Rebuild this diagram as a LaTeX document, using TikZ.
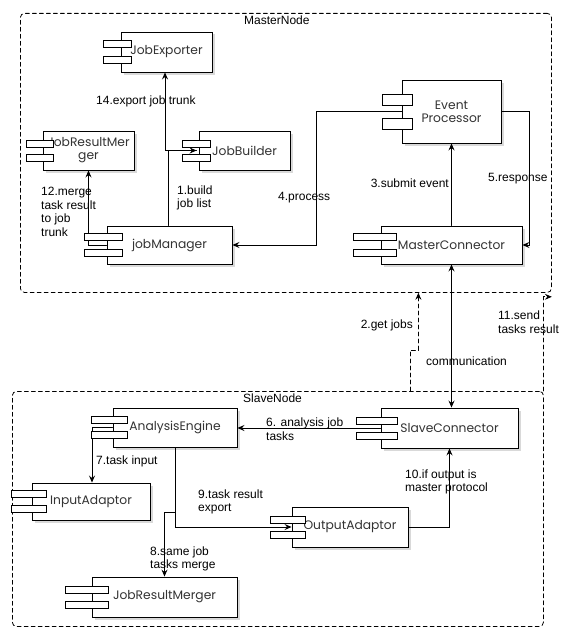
\documentclass[tikz,border=0pt]{standalone}
\usepackage{fontspec}
\setmainfont{Liberation Sans}
\newfontfamily\compfont{Poppins}
\usetikzlibrary{arrows.meta,calc,shadows}

\begin{document}
\begin{tikzpicture}[x=1pt, y=-1pt,
    >={Stealth[length=7pt,width=6pt,inset=2.5pt]}, line cap=round,
    comp/.style={draw, line width=0.9pt, fill=white, inner sep=2pt,
      drop shadow={shadow xshift=2.5pt, shadow yshift=-2.5pt, opacity=0.3},
      font=\compfont\fontsize{12.3}{13}\selectfont, text=black!80,
      align=center},
    port/.style={draw, line width=0.9pt, fill=white},
    conn/.style={->, line width=0.8pt},
    group/.style={draw, dash pattern=on 4pt off 3pt, line width=0.8pt,
      rounded corners=4pt, anchor=north west},
    lbl/.style={font=\fontsize{12}{13.5}\selectfont, align=left,
      inner sep=0pt, anchor=west}
  ]

  \useasboundingbox (0,0) rectangle (579,642);

  % containers
  \node[group, minimum width=531pt, minimum height=279pt] (master) at (20,13) {};
  \node[group, minimum width=531pt, minimum height=235pt] (slave) at (12,391) {};
  \node[lbl] (mastername) at (244,20) {MasterNode};
  \node[lbl] (slavename) at (243,398) {SlaveNode};

  % master side
  \node[comp, minimum width=91pt, minimum height=40pt] (jx) at (166.5,52) {JobExporter};
  \node[comp, minimum width=91pt, minimum height=39pt] (jrm) at (88.5,150.5) {JobResultMer\\ger};
  \node[comp, minimum width=91pt, minimum height=39pt] (jb) at (244.5,150.5) {JobBuilder};
  \node[comp, minimum width=125pt, minimum height=38pt] (jm) at (169.5,245) {jobManager};
  \node[comp, minimum width=99pt, minimum height=63pt] (ep) at (451.5,111.5) {Event\\Processor};
  \node[comp, minimum width=141pt, minimum height=38pt] (mc) at (451.5,245) {MasterConnector};

  % slave side
  \node[comp, minimum width=124pt, minimum height=39pt] (ae) at (175,427.5) {AnalysisEngine};
  \node[comp, minimum width=137pt, minimum height=40pt] (sc) at (449.5,428) {SlaveConnector};
  \node[comp, minimum width=118pt, minimum height=37pt] (ia) at (91,501.5) {InputAdaptor};
  \node[comp, minimum width=116pt, minimum height=40pt] (oa) at (350,527) {OutputAdaptor};
  \node[comp, minimum width=145pt, minimum height=40pt] (rm) at (164.5,597) {JobResultMerger};

  % connectors
  \draw[conn] ([xshift=-2pt]jb.west) -| ([xshift=-1.5pt]jx.south);
  \draw[conn] ([xshift=-1.5pt]jm.north) |- ([xshift=-2pt]jb.west);
  \draw[conn] (jm.west) -| (jrm.south);
  \draw[conn] (ep.west) -- ++(-85,0) |- (jm.east);
  \draw[conn] (mc.north) -- (ep.south);
  \draw[conn] (ep.east) -- ++(28,0) |- (mc.east);
  \draw[conn, <->] (mc.south) -- (mc.south |- sc.north);
  \draw[conn, dash pattern=on 4pt off 3pt] ([xshift=132.5pt]slave.north) -- ++(0,-41)
    -| ([xshift=132.5pt]master.south);
  \draw[conn, dash pattern=on 4pt off 3pt] (slave.north east)
    |- ([yshift=-4pt]master.south east);
  \draw[conn] (sc.west) -- (sc.west -| ae.east);
  \draw[conn] (ae.west) -| ([xshift=1pt]ia.north);
  \draw[conn] (ae.south) |- (oa.west);
  \draw[conn] (ae.south) -- ++(0,65) -| (rm.north);
  \draw[conn] (oa.east) -| (sc.south);

  % ports
  \foreach \n/\l/\r/\d/\h in {jx/17/11/8/7, jrm/16/11/7/7, jb/16/12/7/7,
      jm/22/16/8/7, ep/19/11/12/11, mc/27/16/8/7, ae/21/15/7.5/7,
      sc/24/17/7.5/7, ia/20/15/7.5/7, oa/21/14/7.5/7, rm/26/17/7.5/7}{
    \draw[port] ($(\n.west)+(-\l,{-\d-\h/2})$) rectangle ++(\l+\r,\h);
    \draw[port] ($(\n.west)+(-\l,{\d-\h/2})$) rectangle ++(\l+\r,\h);
  }

  % labels
  \node[lbl] (l14) at (96,101) {14.export job trunk};
  \node[lbl] (l12) at (41,212) {12.merge\\task result\\to job\\trunk};
  \node[lbl] (l1) at (177,198) {1.build\\job list};
  \node[lbl] (l4) at (278,198) {4.process};
  \node[lbl, anchor=east] (l3) at (449,183) {3.submit event};
  \node[lbl] (l5) at (488,179) {5.response};
  \node[lbl, anchor=east] (l2) at (413,325) {2.get jobs};
  \node[lbl] (lcom) at (426,361) {communication};
  \node[lbl] (l11) at (498,322) {11.send\\tasks result};
  \node[lbl] (l6) at (266,429) {6. analysis job\\tasks};
  \node[lbl] (l7) at (96,461) {7.task input};
  \node[lbl] (l9) at (198,502) {9.task result\\export};
  \node[lbl] (l10) at (405,482) {10.if output is\\master protocol};
  \node[lbl] (l8) at (150,559) {8.same job\\tasks merge};

\end{tikzpicture}
\end{document}
